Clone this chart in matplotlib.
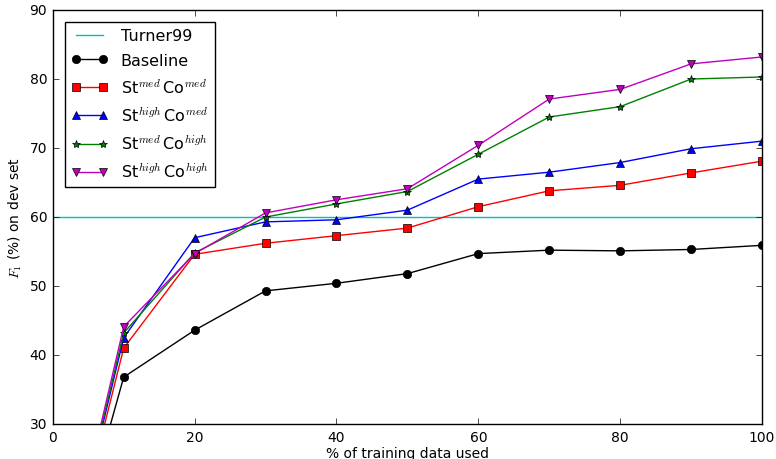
import matplotlib
matplotlib.use("Agg")
import matplotlib.pyplot as plt

plt.style.use("classic")
plt.rcParams["font.size"] = 10

x = [0, 10, 20, 30, 40, 50, 60, 70, 80, 90, 100]
turner99 = 60.0
baseline = [0, 36.8, 43.6, 49.3, 50.4, 51.8, 54.7, 55.2, 55.1, 55.3, 55.9]
st_med_co_med = [0, 41.0, 54.6, 56.2, 57.3, 58.4, 61.5, 63.8, 64.6, 66.4, 68.1]
st_high_co_med = [0, 42.5, 57.0, 59.3, 59.6, 61.0, 65.5, 66.5, 67.9, 69.9, 71.0]
st_med_co_high = [0, 43.2, 54.8, 60.0, 61.9, 63.7, 69.1, 74.5, 76.0, 80.0, 80.3]
st_high_co_high = [0, 44.1, 54.7, 60.6, 62.5, 64.1, 70.4, 77.1, 78.5, 82.2, 83.2]

fig = plt.figure(figsize=(7.76, 4.6), dpi=100)
ax = fig.add_axes([0.068, 0.076, 0.914, 0.9])

ax.axhline(turner99, color="c", label="Turner99")
ax.plot(x, baseline, "k-o", label="Baseline")
ax.plot(x, st_med_co_med, "r-s", label=r"St$^{med}\,$Co$^{med}$")
ax.plot(x, st_high_co_med, "b-^", label=r"St$^{high}\,$Co$^{med}$")
ax.plot(x, st_med_co_high, "g-*", label=r"St$^{med}\,$Co$^{high}$")
ax.plot(x, st_high_co_high, "m-v", label=r"St$^{high}\,$Co$^{high}$")

ax.set_xlim(0, 100)
ax.set_ylim(30, 90)
ax.set_xlabel("% of training data used", labelpad=2)
ax.set_ylabel(r"$F_1$ (%) on dev set", labelpad=4)
ax.legend(loc="upper left", fontsize=11.5, borderaxespad=0.75,
          labelspacing=0.6, handlelength=2.3)

fig.savefig("out.png", dpi=100)
